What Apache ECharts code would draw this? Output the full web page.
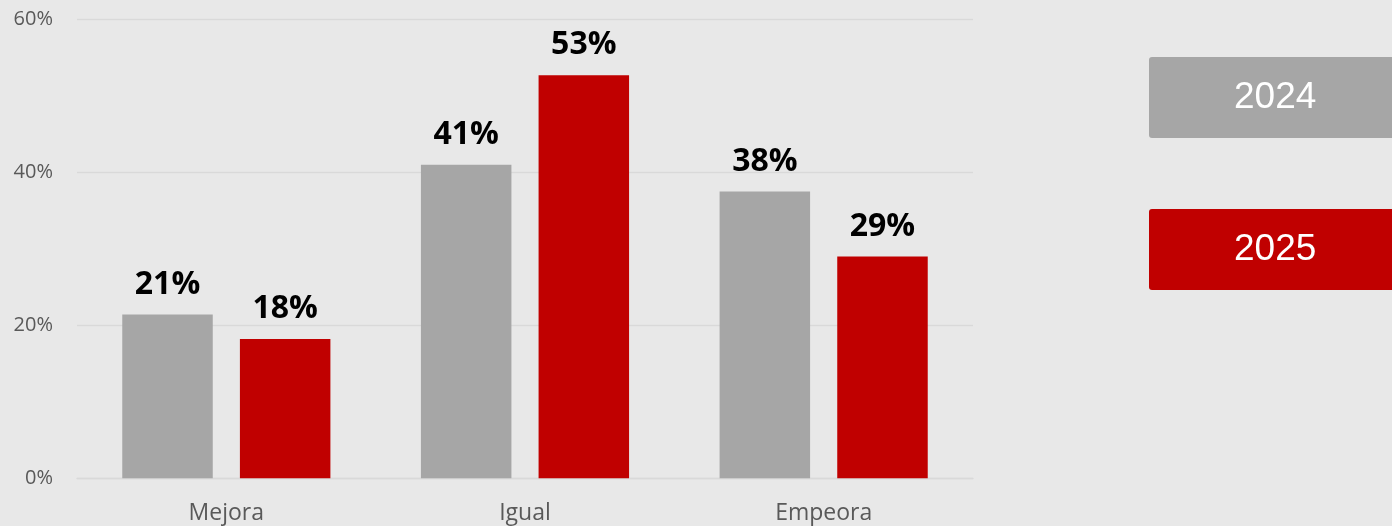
<!DOCTYPE html>
<html>
<head>
<meta charset="utf-8">
<script src="https://cdn.jsdelivr.net/npm/echarts@6/dist/echarts.min.js"></script>
<style>
html,body{margin:0;padding:0;background:#e8e8e8;}
#chart{width:1392px;height:526px;}
</style>
</head>
<body>
<div id="chart"></div>
<script>
const categories = ['Mejora', 'Igual', 'Empeora'];
const seriesNames = ['2024', '2025'];
const values2024 = [21.4, 41.0, 37.5];
const values2025 = [18.2, 52.7, 29.0];
const yTicks = [0, 20, 40, 60];

const colors = ['#a6a6a6', '#c00000'];
const chart = echarts.init(document.getElementById('chart'));

const labelStyle = {
  show: true,
  position: 'top',
  distance: 14,
  fontFamily: 'Open Sans',
  fontWeight: 'bold',
  fontSize: 32,
  color: '#000000',
  formatter: p => Math.round(p.value) + '%'
};

const legendItem = (name, color) => ({
  name: name,
  textStyle: {
    backgroundColor: color,
    color: '#ffffff',
    fontFamily: 'Liberation Sans',
    fontSize: 37,
    width: 167,
    height: 73,
    lineHeight: 73,
    padding: [8, 0, 0, 85],
    borderRadius: 3
  }
});

chart.setOption({
  backgroundColor: '#e8e8e8',
  animation: false,
  grid: { left: 77, right: 419, top: 19.3, bottom: 47.7 },
  legend: {
    orient: 'vertical',
    left: 1144,
    top: 57,
    itemGap: 71,
    itemWidth: 0,
    itemHeight: 0,
    padding: 0,
    selectedMode: false,
    data: [legendItem(seriesNames[0], colors[0]), legendItem(seriesNames[1], colors[1])]
  },
  xAxis: {
    type: 'category',
    data: categories,
    axisLine: { lineStyle: { color: '#d9d9d9', width: 1.3 } },
    axisTick: { show: false },
    axisLabel: { color: '#595959', fontFamily: 'Open Sans', fontSize: 23, margin: 24 }
  },
  yAxis: {
    type: 'value',
    min: yTicks[0],
    max: yTicks[yTicks.length - 1],
    interval: yTicks[1] - yTicks[0],
    axisLine: { show: false },
    axisTick: { show: false },
    splitLine: { lineStyle: { color: '#d9d9d9', width: 1.3 } },
    axisLabel: { color: '#595959', fontFamily: 'Open Sans', fontSize: 20, margin: 24, formatter: '{value}%' }
  },
  series: [
    { name: seriesNames[0], type: 'bar', data: values2024, barWidth: '30.3%', barGap: '30%',
      itemStyle: { color: colors[0] }, label: labelStyle },
    { name: seriesNames[1], type: 'bar', data: values2025, barWidth: '30.3%', barGap: '30%',
      itemStyle: { color: colors[1] }, label: labelStyle }
  ]
});
</script>
</body>
</html>
